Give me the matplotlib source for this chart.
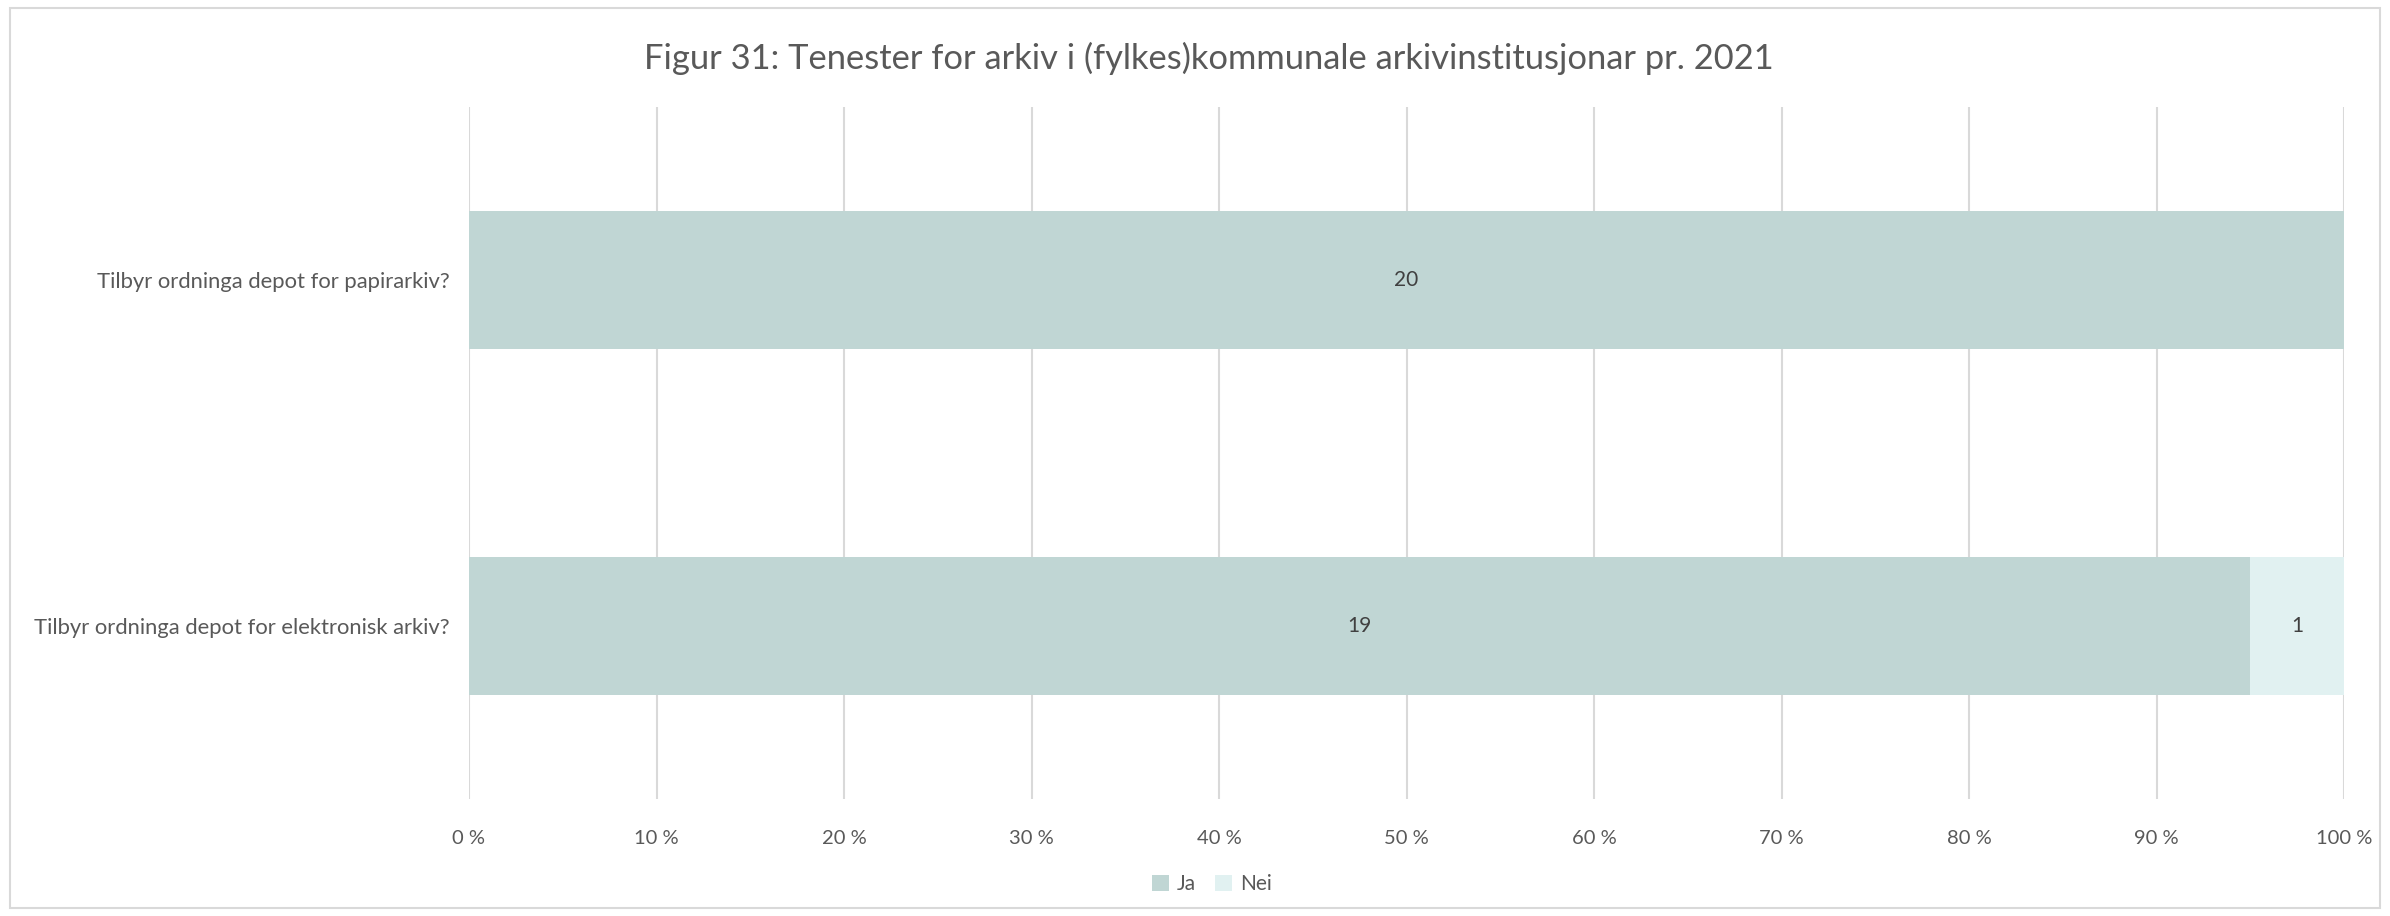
import matplotlib
matplotlib.use("Agg")
import matplotlib.pyplot as plt
from matplotlib.patches import Rectangle, Patch
import numpy as np

categories = ["Tilbyr ordninga depot for papirarkiv?", "Tilbyr ordninga depot for elektronisk arkiv?"]
ja = [20, 19]
nei = [0, 1]
series_names = ["Ja", "Nei"]
xticks = [0, 10, 20, 30, 40, 50, 60, 70, 80, 90, 100]
title = "Figur 31: Tenester for arkiv i (fylkes)kommunale arkivinstitusjonar pr. 2021"

col_ja = "#C0D6D4"
col_nei = "#E1F1F1"
txt = "#595959"
font = "Lato"

W, H = 2390, 916
fig = plt.figure(figsize=(W/100, H/100), dpi=100)
fig.patch.set_facecolor("white")
fig.add_artist(Rectangle((10/W, 8/H), (W-20)/W, (H-16)/H, transform=fig.transFigure,
                         fill=False, edgecolor="#D9D9D9", linewidth=1.5))

ax = fig.add_axes([469/W, 1-799/H, (2344-469)/W, (799-107)/H])
ja_a = np.array(ja, float); nei_a = np.array(nei, float)
tot = ja_a + nei_a
ja_p = ja_a / tot * 100
nei_p = nei_a / tot * 100
y = np.arange(len(categories))
bh = 0.40
ax.barh(y, ja_p, height=bh, color=col_ja, label=series_names[0], zorder=2)
ax.barh(y, nei_p, left=ja_p, height=bh, color=col_nei, label=series_names[1], zorder=2)
for i in range(len(categories)):
    if ja[i] > 0:
        ax.text(ja_p[i]/2, y[i], str(ja[i]), ha="center", va="center", fontsize=15, color="#404040", family=font)
    if nei[i] > 0:
        ax.text(ja_p[i] + nei_p[i]/2, y[i], str(nei[i]), ha="center", va="center", fontsize=15, color="#404040", family=font)

ax.set_xlim(0, 100)
ax.set_ylim(len(categories)-0.5, -0.5)
ax.set_xticks(xticks)
ax.set_xticklabels([f"{t} %" for t in xticks], fontsize=14.5, color=txt, family=font)
ax.set_yticks(y)
ax.set_yticklabels(categories, fontsize=15.8, color=txt, family=font)
ax.tick_params(axis="both", length=0)
ax.tick_params(axis="x", pad=22)
ax.tick_params(axis="y", pad=14)
ax.grid(axis="x", color="#D9D9D9", linewidth=1.5, zorder=0)
for s in ax.spines.values():
    s.set_visible(False)

fig.text(1209/W, 1-58/H, title, ha="center", va="center", fontsize=24.8, color=txt, family=font)

handles = [Patch(facecolor=col_ja, label=series_names[0]), Patch(facecolor=col_nei, label=series_names[1])]
fig.legend(handles=handles, loc="center", bbox_to_anchor=(1212/W, 1-884/H), ncol=2, frameon=False,
           prop={"family": font, "size": 15}, labelcolor=txt, handlelength=0.8, handleheight=0.8,
           handletextpad=0.4, columnspacing=0.9)

fig.savefig("out.png", dpi=100, facecolor="white")
